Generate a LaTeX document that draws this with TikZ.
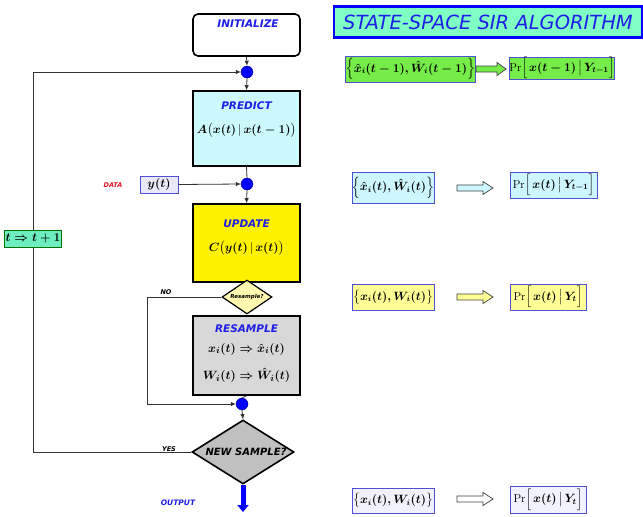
\documentclass[tikz,border=0pt]{standalone}
\usepackage{amsmath}
\usepackage{fontspec}
\newfontfamily\comic{DejaVu Sans}
\usetikzlibrary{shapes.geometric,arrows.meta}
\definecolor{titlefill}{RGB}{128,255,196}
\definecolor{rowgreen}{RGB}{118,236,72}
\definecolor{cyanbox}{RGB}{204,250,252}
\definecolor{cyanrow}{RGB}{206,246,255}
\definecolor{yelrow}{RGB}{255,255,150}
\definecolor{diayel}{RGB}{255,250,176}
\definecolor{graybox}{RGB}{216,216,216}
\definecolor{graydia}{RGB}{192,192,192}
\definecolor{mint}{RGB}{110,238,190}
\definecolor{lav}{RGB}{232,232,246}
\definecolor{lavrow}{RGB}{242,242,252}
\definecolor{bordblue}{RGB}{80,80,210}
\definecolor{txtblue}{RGB}{30,30,230}
\definecolor{txtred}{RGB}{230,20,40}
\tikzset{
  stepbox/.style={draw=black, line width=1.6pt, minimum width=107pt, inner sep=0pt},
  steptitle/.style={font=\comic\bfseries\itshape\fontsize{10.5}{12}\selectfont, text=txtblue, inner sep=0pt},
  formula/.style={font=\fontsize{12.5}{14}\selectfont, inner sep=0pt},
  jdot/.style={circle, fill=blue, draw=blue!60!black, minimum size=12pt, inner sep=0pt},
  conn/.style={draw=black!80, line width=0.8pt},
  arr/.style={conn, -{Latex[length=5pt,width=4.5pt]}},
  rowbox/.style={draw=bordblue, line width=0.8pt, inner sep=0pt, font=\fontsize{11.5}{13}\selectfont},
  harrow/.pic={\path[pic actions] (0,-3) -- (26,-3) -- (26,-6.5) -- (36,0) -- (26,6.5) -- (26,3) -- (0,3) -- cycle;},
  harrowshort/.pic={\path[pic actions] (0,-3) -- (21,-3) -- (21,-6.5) -- (30,0) -- (21,6.5) -- (21,3) -- (0,3) -- cycle;},
  small/.style={font=\comic\bfseries\itshape\fontsize{6.5}{7}\selectfont, inner sep=0pt}
}
\begin{document}
\begin{tikzpicture}[x=1pt,y=-1pt]
\useasboundingbox (0,0) rectangle (643,517);
\fill[white] (0,0) rectangle (643,517);

% ---- flow chart ----
\node[stepbox, rounded corners=5pt, fill=white, minimum height=42pt] (init) at (246.5,35) {};
\node[steptitle] (initt) at (248,24) {INITIALIZE};

\node[jdot] (dot1) at (247,72) {};

\node[stepbox, fill=cyanbox, minimum height=75pt] (pred) at (246.5,128.5) {};
\node[steptitle] (predt) at (246.5,106) {PREDICT};
\node[formula] (predf) at (246.5,130) {$\boldsymbol{A}\big(\boldsymbol{x(t)}\,|\,\boldsymbol{x(t-1)}\big)$};

\node[jdot] (dot2) at (247,184) {};

\node[stepbox, fill=yellow, minimum height=78pt] (upd) at (246.5,243) {};
\node[steptitle] (updt) at (246.5,224) {UPDATE};
\node[formula] (updf) at (246.5,248) {$\boldsymbol{C}\big(\boldsymbol{y(t)}\,|\,\boldsymbol{x(t)}\big)$};

\node[diamond, draw=black, line width=1.2pt, fill=diayel, minimum width=50pt, minimum height=34pt, inner sep=0pt, aspect=1.5] (rsq) at (247,297) {};
\node[font=\comic\bfseries\itshape\fontsize{5.5}{6}\selectfont, inner sep=0pt] (rsqt) at (247,297) {Resample?};

\node[stepbox, fill=graybox, minimum height=79pt] (res) at (246.5,355.5) {};
\node[steptitle] (rest) at (246.5,329) {RESAMPLE};
\node[formula] (resf1) at (246.5,349) {$\boldsymbol{x_i(t) \Rightarrow \hat{x}_i(t)}$};
\node[formula] (resf2) at (246.5,375) {$\boldsymbol{W_i(t) \Rightarrow \hat{W}_i(t)}$};

\node[jdot] (dot3) at (242,404) {};

\node[diamond, draw=black, line width=1.6pt, fill=graydia, minimum width=102pt, minimum height=64pt, inner sep=0pt, aspect=1.6] (ns) at (243,452) {};
\node[font=\comic\bfseries\itshape\fontsize{10}{12}\selectfont, inner sep=0pt] (nst) at (246,452) {NEW SAMPLE?};

\coordinate (outend) at (243,512);
\draw[blue, line width=5pt, -{Triangle[length=7pt,width=11pt]}] (ns.south) -- (outend);

% connectors
\draw[arr] (init.south) -- (dot1.north);
\draw[arr] (dot1.south) -- (pred.north);
\draw[conn] (pred.south) -- (dot2.north);
\draw[arr] (dot2.south) -- (upd.north);
\draw[conn] (res.south) -- (dot3.north);
\draw[arr] (dot3.south) -- (ns.north);

\coordinate (ltop) at (33,72);
\coordinate (lbot) at (33,452);
\draw[arr] (ns.west) -- (lbot) -- (ltop) -- (dot1.west);

\coordinate (ntop) at (147,297);
\coordinate (nbot) at (147,404);
\draw[arr] (rsq.west) -- (ntop) -- (nbot) -- (dot3.west);

\node[draw=bordblue, fill=lav, line width=0.8pt, inner sep=1.5pt, minimum width=38pt, minimum height=17pt, font=\fontsize{13}{15}\selectfont] (data) at (159,184.5) {$\boldsymbol{y(t)}$};
\draw[arr] (data.east) -- (dot2.west);

\node[draw=green!45!black, fill=mint, line width=0.8pt, inner sep=1pt, minimum width=56pt, minimum height=17pt, font=\fontsize{13}{15}\selectfont] (tinc) at (33,238.5) {$\boldsymbol{t \Rightarrow t+1}$};

\node[small, text=txtred] (datal) at (113,185) {DATA};
\node[small] (nol) at (166,292) {NO};
\node[small] (yesl) at (169,449) {YES};
\node[small, text=txtblue, font=\comic\bfseries\itshape\fontsize{7.5}{8}\selectfont] (outl) at (178,503) {OUTPUT};

% ---- right column ----
\node[draw=blue, line width=2.2pt, fill=titlefill, minimum width=308pt, minimum height=31pt, inner sep=0pt] (title) at (488,22) {};
\node[font=\comic\itshape\fontsize{19.5}{22}\selectfont, text=txtblue, inner sep=0pt] (titlet) at (488,22) {STATE-SPACE SIR ALGORITHM};

% row 1
\node[rowbox, fill=rowgreen, minimum width=123pt, minimum height=26pt] (r1a) at (410.5,69) {$\Big\{\boldsymbol{\hat{x}_i(t-1),\hat{W}_i(t-1)}\Big\}$};
\pic[fill=rowgreen, draw=black!75, line width=0.7pt] at (476,69) {harrowshort};
\node[rowbox, fill=rowgreen, minimum width=104pt, minimum height=22pt] (r1b) at (562,68) {$\mathrm{Pr}\Big[\,\boldsymbol{x(t-1)}\,\big|\,\boldsymbol{Y_{t-1}}\Big]$};

% row 2
\node[rowbox, fill=cyanrow, minimum width=82pt, minimum height=31pt] (r2a) at (393,187.5) {$\Big\{\boldsymbol{\hat{x}_i(t),\hat{W}_i(t)}\Big\}$};
\pic[fill=cyanrow, draw=black!75, line width=0.7pt] at (457,188) {harrow};
\node[rowbox, fill=cyanrow, minimum width=87pt, minimum height=26pt] (r2b) at (553.5,185) {$\mathrm{Pr}\Big[\,\boldsymbol{x(t)}\,\big|\,\boldsymbol{Y_{t-1}}\Big]$};

% row 3
\node[rowbox, fill=yelrow, minimum width=82pt, minimum height=26pt] (r3a) at (393,297) {$\big\{\boldsymbol{x_i(t),W_i(t)}\big\}$};
\pic[fill=yelrow, draw=black!75, line width=0.7pt] at (457,297) {harrow};
\node[rowbox, fill=yelrow, minimum width=76pt, minimum height=26pt] (r3b) at (548,297) {$\mathrm{Pr}\Big[\,\boldsymbol{x(t)}\,\big|\,\boldsymbol{Y_t}\Big]$};

% row 4
\node[rowbox, fill=lavrow, minimum width=82pt, minimum height=25pt] (r4a) at (393,500.5) {$\big\{\boldsymbol{x_i(t),W_i(t)}\big\}$};
\pic[fill=white, draw=black!75, line width=0.7pt] at (457,499) {harrow};
\node[rowbox, fill=lavrow, minimum width=76pt, minimum height=27pt] (r4b) at (548,499.5) {$\mathrm{Pr}\Big[\,\boldsymbol{x(t)}\,\big|\,\boldsymbol{Y_t}\Big]$};
\end{tikzpicture}
\end{document}
